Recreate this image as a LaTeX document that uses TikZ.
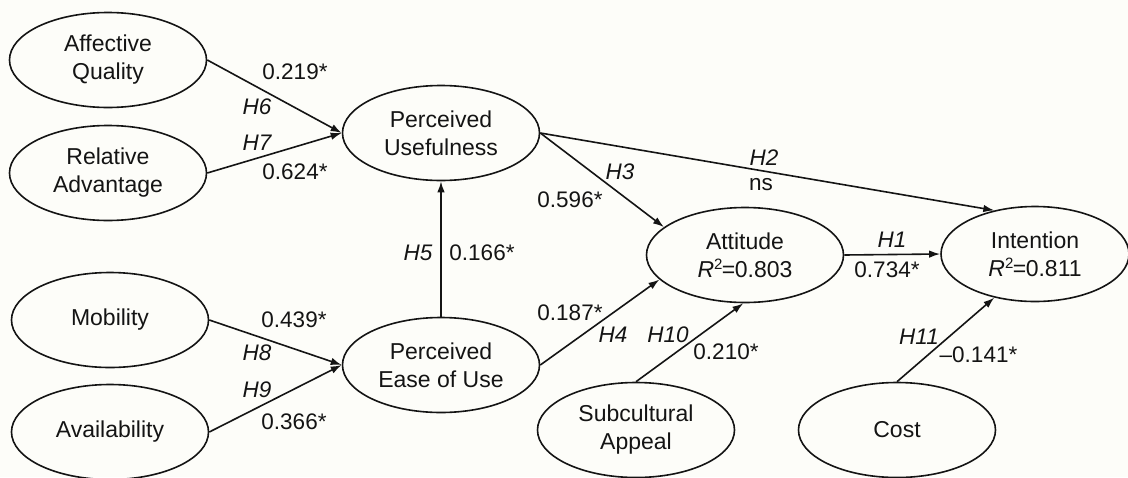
\documentclass[tikz,border=0pt]{standalone}
\usepackage{fontspec}
\setmainfont{Liberation Sans}
\usetikzlibrary{shapes.geometric,arrows.meta}
\definecolor{bg}{RGB}{253,253,249}
\definecolor{ink}{RGB}{20,20,20}
\newcommand{\rsq}[1]{{\itshape R}\raisebox{8pt}{\fontsize{15}{15}\selectfont 2}\kern-0.5pt=\kern-0.5pt#1}
\begin{document}
\begin{tikzpicture}[x=1pt,y=-1pt,
  construct/.style={draw=ink,line width=1.6pt,ellipse,minimum width=197pt,minimum height=95pt,inner sep=0pt,align=center,text=ink,font=\fontsize{23}{28}\selectfont},
  path/.style={draw=ink,line width=1.6pt,-{Latex[length=11pt,width=7.5pt]}},
  lbl/.style={text=ink,inner sep=0pt,font=\fontsize{22.5}{26}\selectfont},
  hyp/.style={lbl,font=\fontsize{22.5}{26}\selectfont\itshape}]
\fill[bg] (0,0) rectangle (1128,477);
\useasboundingbox (0,0) rectangle (1128,477);
% constructs
\node[construct] (aq) at (108,60) {Affective\\Quality};
\node[construct] (ra) at (108,173) {Relative\\Advantage};
\node[construct] (mo) at (110,320) {Mobility};
\node[construct] (av) at (110,432) {Availability};
\node[construct] (pu) at (441,133) {Perceived\\Usefulness};
\node[construct] (pe) at (441,365) {Perceived\\Ease of Use};
\node[construct] (at) at (745,255) {Attitude\\\rsq{0.803}};
\node[construct,minimum width=188pt] (in) at (1035,254) {Intention\\\rsq{0.811}};
\node[construct] (sa) at (636,430) {Subcultural\\Appeal};
\node[construct] (co) at (897,430) {Cost};
% paths
\draw[path] (aq.east) -- (pu.west);
\draw[path] (ra.east) -- (pu.west);
\draw[path] (mo.east) -- (pe.west);
\draw[path] (av.east) -- (pe.west);
\draw[path] (pe.north) -- (pu.south);
\draw[path] (pu.east) -- (at.161);
\draw[path] (pu.east) -- (in.133);
\draw[path] (pe.east) -- (at.196);
\draw[path] (at.east) -- (in.west);
\draw[path] (sa.north) -- (at.268);
\draw[path] (co.north) -- (in.227);
% labels
\node[lbl] (l1) at (295,72) {0.219*};
\node[hyp] (h6) at (257,107) {H6};
\node[hyp] (h7) at (257,143) {H7};
\node[lbl] (l2) at (295,172) {0.624*};
\node[lbl] (l3) at (294,320) {0.439*};
\node[hyp] (h8) at (257,353) {H8};
\node[hyp] (h9) at (257,390) {H9};
\node[lbl] (l4) at (294,422) {0.366*};
\node[hyp] (h5) at (418,253) {H5};
\node[lbl] (l5) at (482,253) {0.166*};
\node[hyp] (h3) at (620,172) {H3};
\node[lbl] (l6) at (570,200) {0.596*};
\node[hyp] (h2) at (764,158) {H2};
\node[lbl] (l7) at (761,185) {ns};
\node[lbl] (l8) at (570,313) {0.187*};
\node[hyp] (h4) at (613,335) {H4};
\node[hyp] (h10) at (668,335) {H10};
\node[lbl] (l9) at (726,352) {0.210*};
\node[hyp] (h1) at (892,240) {H1};
\node[lbl] (l10) at (887,270) {0.734*};
\node[hyp] (h11) at (919,337) {H11};
\node[lbl] (l11) at (979,355) {\kern-1pt–0.141*};
\end{tikzpicture}
\end{document}
